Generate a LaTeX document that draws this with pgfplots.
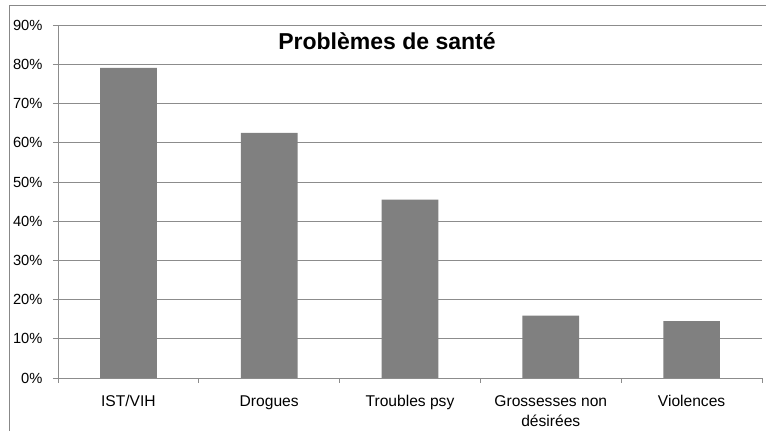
\documentclass[border=0pt]{standalone}
\usepackage{pgfplots}
\pgfplotsset{compat=1.18}
\usepackage{fontspec}
\setmainfont{Liberation Sans}
\definecolor{barg}{HTML}{808080}
\definecolor{gridg}{HTML}{8C8C8C}
\definecolor{frameg}{HTML}{888888}
\begin{document}
\begin{tikzpicture}
\useasboundingbox (0pt,0pt) rectangle (766pt,431pt);
\draw[frameg, line width=1.2pt] (9.7pt,0pt) -- (9.7pt,425.7pt) -- (770pt,425.7pt);
\begin{axis}[
  at={(58pt,53pt)}, anchor=south west,
  scale only axis, width=704pt, height=352.8pt,
  xmin=-0.5, xmax=4.5, ymin=0, ymax=90,
  axis lines*=left,
  axis line style={gridg, line width=0.8pt},
  ybar, bar width=56.7pt,
  xtick={0,1,2,3,4},
  xticklabels={IST/VIH, Drogues, Troubles psy, {Grossesses non\\désirées}, Violences},
  minor xtick={-0.5,0.5,1.5,2.5,3.5,4.5},
  major x tick style={draw=none},
  minor tick length=5pt,
  major tick length=5pt,
  tick align=outside,
  tick style={gridg, line width=0.8pt},
  ytick={0,10,...,90},
  yticklabel={\pgfmathprintnumber{\tick}\%},
  ymajorgrids,
  grid style={gridg, line width=0.8pt},
  /pgf/number format/assume math mode=true,
  xticklabel style={font=\fontsize{15.6}{20}\selectfont, align=center, yshift=-9pt},
  yticklabel style={font=\fontsize{14.7}{17}\selectfont, xshift=-7pt},
]
\addplot[fill=barg, draw=none] coordinates {(0,79.1) (1,62.5) (2,45.5) (3,15.9) (4,14.5)};
\end{axis}
\node[anchor=base, font=\bfseries\fontsize{23}{26}\selectfont] at (387pt,381pt) {Problèmes de santé};
\end{tikzpicture}
\end{document}
